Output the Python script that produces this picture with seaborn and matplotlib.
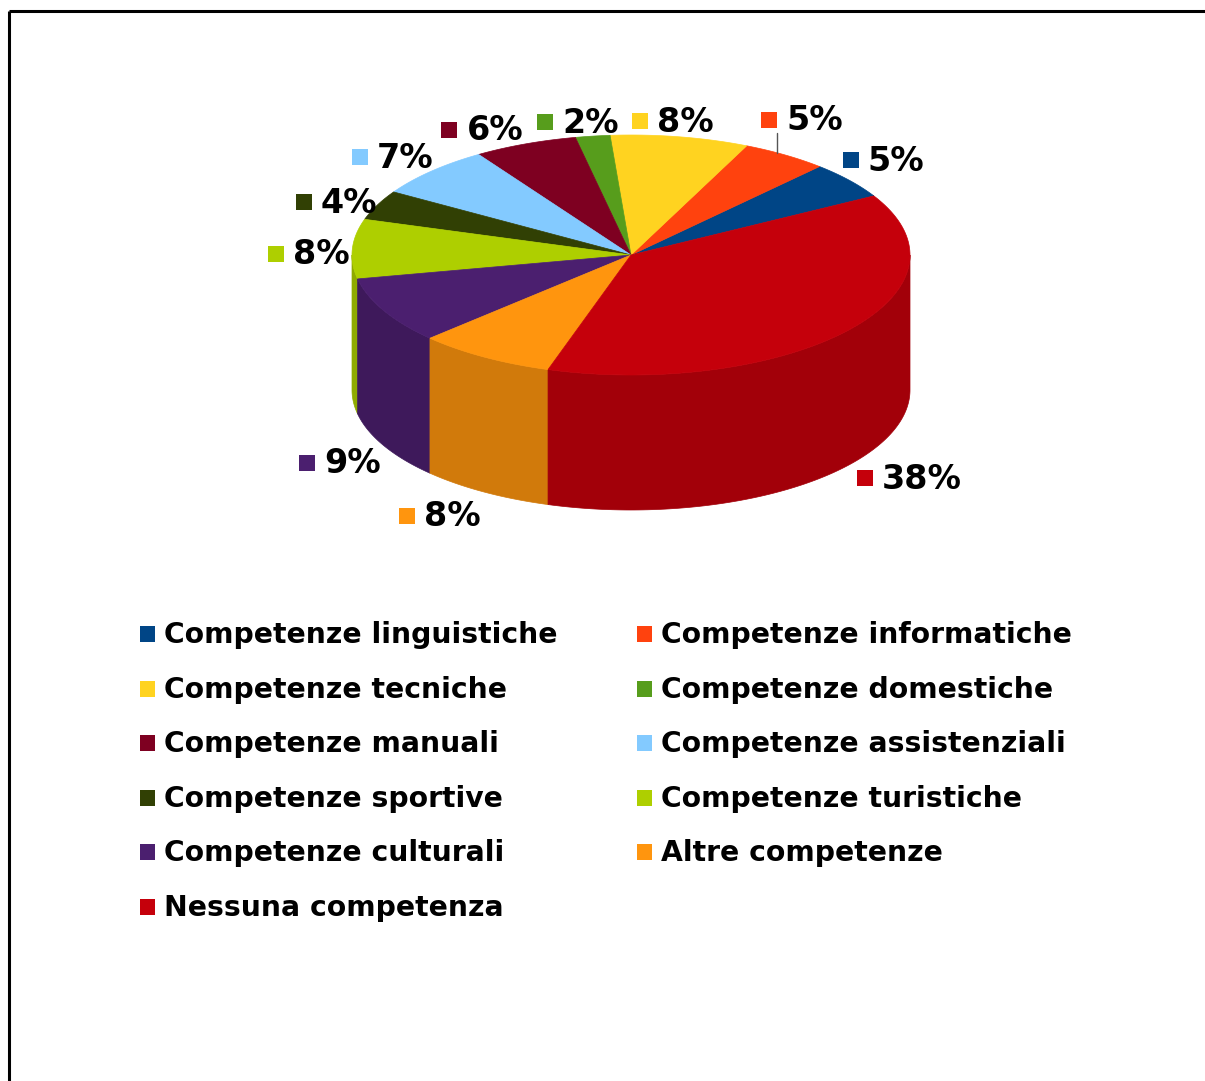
import numpy as np
import matplotlib
matplotlib.use("Agg")
import matplotlib.pyplot as plt
from matplotlib.patches import Polygon, Rectangle
import seaborn as sns

# Distribution of competences (percent)
categories = [
    "Competenze linguistiche", "Competenze informatiche", "Competenze tecniche",
    "Competenze domestiche", "Competenze manuali", "Competenze assistenziali",
    "Competenze sportive", "Competenze turistiche", "Competenze culturali",
    "Altre competenze", "Nessuna competenza",
]
values = [5, 5, 8, 2, 6, 7, 4, 8, 9, 8, 38]
colors = ["#004586", "#FF420E", "#FFD320", "#579D1C", "#7E0021", "#83CAFF",
          "#314004", "#AECF00", "#4B1F6F", "#FF950E", "#C5000B"]

# Small nudges applied to the automatic label placement (pixels)
label_dx = [-10, -14, -17, -7, -22, 1, 10, 12, 5, -16, 19]
label_dy = [-5, -15, 8, 10, 8, 3, 7, 6, 6, 3, -2]

sns.set_theme(style="white")
plt.rcParams["font.family"] = ["DejaVu Sans"]

W, H = 1205, 1081
fig = plt.figure(figsize=(W / 100, H / 100), dpi=100)
ax = fig.add_axes([0, 0, 1, 1])
ax.set_xlim(0, W)
ax.set_ylim(H, 0)
ax.axis("off")

# Geometry of the 3D pie (pixel space)
cx, cy = 631, 255
rx, ry = 279, 120
depth = 135
start = 29.5

def shade(c, f):
    r, g, b = matplotlib.colors.to_rgb(c)
    return (r * f, g * f, b * f)

total = float(sum(values))
angles = [start]
for v in values:
    angles.append(angles[-1] + 360.0 * v / total)

# Side walls (visible front half, 180..360 degrees)
for i, c in enumerate(colors):
    a0, a1 = angles[i], angles[i + 1]
    for off in (0, 360, -360):
        lo, hi = max(a0 + off, 180), min(a1 + off, 360)
        if hi > lo:
            th = np.linspace(lo, hi, 120)
            xs = cx + rx * np.cos(np.radians(th))
            ys = cy - ry * np.sin(np.radians(th))
            pts = np.vstack([np.column_stack([xs, ys]),
                             np.column_stack([xs[::-1], ys[::-1] + depth])])
            ax.add_patch(Polygon(pts, closed=True, facecolor=shade(c, 0.82),
                                 edgecolor=shade(c, 0.82), lw=0.5))

# Top face wedges
for i, c in enumerate(colors):
    a0, a1 = angles[i], angles[i + 1]
    th = np.linspace(a0, a1, 150)
    xs = cx + rx * np.cos(np.radians(th))
    ys = cy - ry * np.sin(np.radians(th))
    pts = np.vstack([[cx, cy], np.column_stack([xs, ys])])
    ax.add_patch(Polygon(pts, closed=True, facecolor=c, edgecolor=c, lw=0.5))

# Percentage labels with colour keys
label_fs = 24
for i, (v, c) in enumerate(zip(values, colors)):
    mid = (angles[i] + angles[i + 1]) / 2.0
    t = np.radians(mid)
    lx = cx + rx * 1.2 * np.cos(t) + label_dx[i]
    ly = cy - ry * 1.2 * np.sin(t) + label_dy[i]
    if np.sin(t) < 0:
        ly += depth
    txt = f"{v}%"
    tw = 26 * len(txt) + 3
    x0 = lx - (tw + 26) / 2
    ax.add_patch(Rectangle((x0, ly - 8), 16, 16, facecolor=c, edgecolor="none"))
    ax.text(x0 + 25, ly + 1, txt, fontsize=label_fs, fontweight="bold",
            color="black", ha="left", va="center")
    if i == 1:
        lxp = x0 + 16
        ey = cy - ry * np.sqrt(max(0.0, 1 - ((lxp - cx) / rx) ** 2))
        ax.plot([lxp, lxp], [ly + 13, ey], color="#555555", lw=1)

# Legend in two columns
col_x = [140, 637]
row_y0, row_dy = 634, 54.6
for i, (name, c) in enumerate(zip(categories, colors)):
    col, row = i % 2, i // 2
    x = col_x[col]
    y = row_y0 + row * row_dy
    ax.add_patch(Rectangle((x, y - 8), 15, 16, facecolor=c, edgecolor="none"))
    ax.text(x + 24, y + 1, name, fontsize=20.3, fontweight="bold",
            color="black", ha="left", va="center")

# Frame (top and left sides)
ax.plot([9, W], [11, 11], color="black", lw=2.2, solid_capstyle="butt")
ax.plot([9, 9], [11, H], color="black", lw=2.2, solid_capstyle="butt")

fig.savefig("out.png", dpi=100)
